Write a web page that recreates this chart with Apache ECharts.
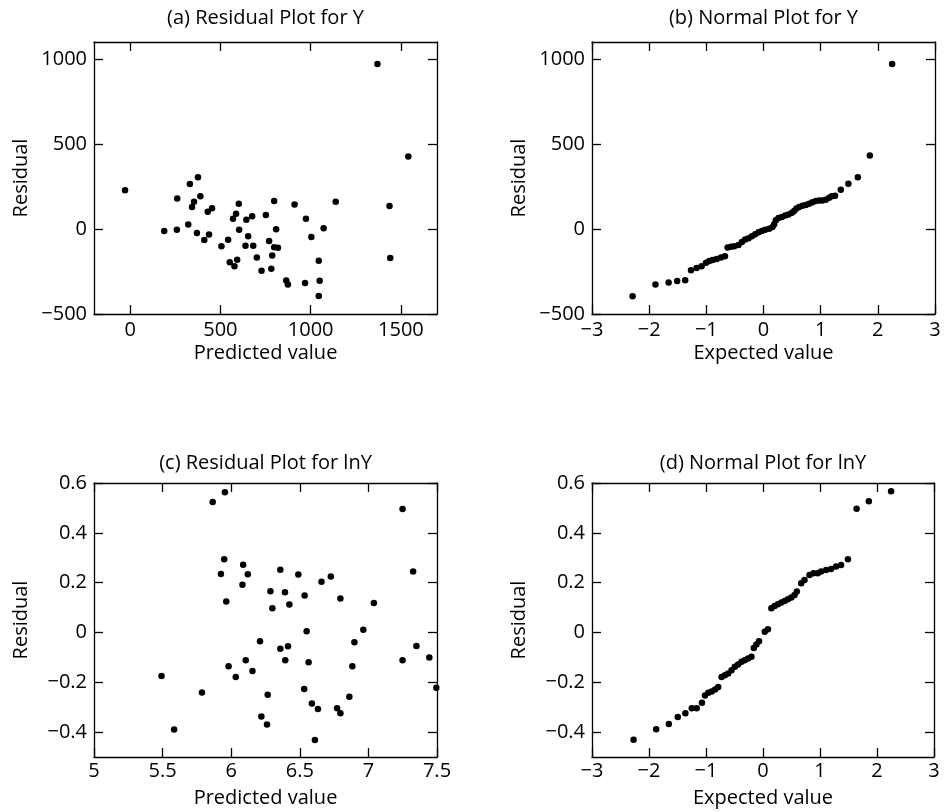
<!DOCTYPE html>
<html>
<head>
<meta charset="utf-8">
<script src="https://cdn.jsdelivr.net/npm/echarts@6/dist/echarts.min.js"></script>
<style>
html,body{margin:0;padding:0;background:#fff;}
#chart{width:950px;height:812px;}
</style>
</head>
<body>
<div id="chart"></div>
<script>
// ---------- data ----------
const panelTitles = ['(a) Residual Plot for Y', '(b) Normal Plot for Y', '(c) Residual Plot for lnY', '(d) Normal Plot for lnY'];
const xNames = ['Predicted value', 'Expected value', 'Predicted value', 'Expected value'];
const yName = 'Residual';

// (a) residuals vs predicted value for Y
const aPred = [1370,1541,-28,376,331,261,389,354,343,430,454,602,587,570,644,676,752,798,911,974,1139,1437,189,259,322,370,437,411,506,543,604,654,639,682,770,809,798,819,787,702,552,593,578,728,782,865,874,969,1050,1045,1045,1004,1072,1441];
const aRes  = [970,427,228,305,264,179,193,161,130,102,122,148,89,61,55,75,83,165,144,61,161,136,-12,-4,26,-24,-33,-65,-102,-63,-4,-43,-98,-98,-71,-2,-108,-110,-156,-167,-195,-181,-219,-246,-234,-303,-327,-317,-305,-394,-187,-47,4,-171];

// (b) normal plot for Y
const bExp = [-2.29,-1.89,-1.66,-1.51,-1.37,-1.268,-1.17,-1.083,-1.006,-0.948,-0.89,-0.82,-0.744,-0.675,-0.628,-0.57,-0.512,-0.437,-0.377,-0.32,-0.262,-0.203,-0.145,-0.087,-0.028,0.03,0.1,0.157,0.187,0.216,0.262,0.321,0.379,0.437,0.496,0.536,0.576,0.624,0.681,0.74,0.798,0.856,0.915,0.973,1.03,1.09,1.148,1.194,1.252,1.352,1.485,1.65,1.86,2.25];
const bRes = [-396,-327,-315,-306,-302,-242,-230,-219,-199,-188,-183,-176,-168,-160,-109,-105,-101,-94,-76,-62,-55,-43,-31,-19,-12,-4,2,12,28,51,64,70,80,86,96,106,120,129,137,141,149,157,164,168,168,172,184,192,196,231,266,305,433,970];

// (c) residuals vs predicted value for lnY
const cPred = [5.954,5.865,7.249,5.949,6.087,5.925,6.121,6.358,6.489,6.726,6.658,6.082,6.286,6.392,6.535,6.796,5.964,6.30,6.424,7.04,7.326,6.55,6.963,6.21,6.414,6.358,6.898,7.35,7.444,7.249,6.106,6.394,6.564,5.981,6.883,6.155,6.033,5.492,7.495,6.532,5.787,6.266,6.861,6.588,6.632,6.772,6.796,6.22,6.261,5.584,6.61];
const cRes  = [0.563,0.524,0.496,0.294,0.272,0.235,0.234,0.252,0.233,0.225,0.204,0.192,0.165,0.161,0.148,0.136,0.124,0.097,0.112,0.118,0.245,0.005,0.011,-0.035,-0.055,-0.065,-0.039,-0.054,-0.101,-0.112,-0.112,-0.112,-0.12,-0.136,-0.136,-0.155,-0.179,-0.175,-0.222,-0.227,-0.241,-0.25,-0.258,-0.285,-0.307,-0.304,-0.324,-0.337,-0.37,-0.39,-0.432];

// (d) normal plot for lnY
const dExp = [-2.271,-1.874,-1.652,-1.495,-1.362,-1.25,-1.163,-1.071,-1.018,-0.96,-0.9,-0.84,-0.786,-0.727,-0.669,-0.611,-0.552,-0.494,-0.437,-0.377,-0.32,-0.262,-0.203,-0.162,-0.116,-0.07,0.03,0.087,0.147,0.204,0.262,0.321,0.379,0.437,0.496,0.554,0.594,0.67,0.728,0.816,0.886,0.96,1.02,1.107,1.195,1.282,1.37,1.49,1.642,1.857,2.247];
const dRes = [-0.431,-0.389,-0.368,-0.339,-0.324,-0.304,-0.304,-0.282,-0.253,-0.242,-0.237,-0.229,-0.219,-0.179,-0.172,-0.165,-0.152,-0.138,-0.129,-0.118,-0.112,-0.105,-0.098,-0.062,-0.048,-0.035,0.003,0.013,0.097,0.106,0.113,0.12,0.126,0.133,0.14,0.15,0.164,0.198,0.211,0.231,0.238,0.238,0.245,0.251,0.255,0.265,0.271,0.294,0.497,0.527,0.567];

// axis ranges and tick labels
const yRangeY = [-500, 1100];
const yTicksY = [-500, 0, 500, 1000];
const xRangeA = [-200, 1700];
const xTicksA = [0, 500, 1000, 1500];
const xRangeNorm = [-3, 3];
const xTicksNorm = [-3, -2, -1, 0, 1, 2, 3];
const yRangeLn = [-0.5, 0.6];
const yTicksLn = [-0.4, -0.2, 0, 0.2, 0.4, 0.6];
const xRangeC = [5, 7.5];
const xTicksC = [5, 5.5, 6, 6.5, 7, 7.5];

// ---------- chart ----------
const FONT = '"Open Sans", "DejaVu Sans", sans-serif';
const INK = '#000';
const fmt = v => String(+Number(v).toFixed(2)).replace('-', '\u2212');

const grids = [
  {left: 94, top: 42, width: 343, height: 272},
  {left: 592, top: 42, width: 343, height: 272},
  {left: 94, top: 483, width: 343, height: 274},
  {left: 592, top: 483, width: 342, height: 274}
];

const lineStyle = {color: INK, width: 1.3};

function xAxes(gi, range, ticks, name, labelMargin, nameGap) {
  return [
    {
      gridIndex: gi, type: 'value', min: range[0], max: range[1], position: 'bottom',
      axisLine: {show: true, onZero: false, lineStyle},
      axisTick: {show: true, inside: true, length: 9, customValues: ticks, lineStyle},
      axisLabel: {show: true, customValues: ticks, margin: labelMargin, fontSize: 20, fontFamily: FONT, color: INK, formatter: fmt},
      splitLine: {show: false},
      name: name, nameLocation: 'middle', nameGap: nameGap,
      nameTextStyle: {fontSize: 20, fontFamily: FONT, color: INK}
    },
    {
      gridIndex: gi, type: 'value', min: range[0], max: range[1], position: 'top',
      axisLine: {show: true, onZero: false, lineStyle},
      axisTick: {show: true, inside: true, length: 9, customValues: ticks, lineStyle},
      axisLabel: {show: false},
      splitLine: {show: false}
    }
  ];
}

function yAxes(gi, range, ticks) {
  return [
    {
      gridIndex: gi, type: 'value', min: range[0], max: range[1], position: 'left',
      axisLine: {show: true, onZero: false, lineStyle},
      axisTick: {show: true, inside: true, length: 9, customValues: ticks, lineStyle},
      axisLabel: {show: true, customValues: ticks, margin: 7, fontSize: 20, fontFamily: FONT, color: INK, formatter: fmt},
      splitLine: {show: false},
      name: yName, nameLocation: 'middle', nameGap: 63,
      nameTextStyle: {fontSize: 20, fontFamily: FONT, color: INK}
    },
    {
      gridIndex: gi, type: 'value', min: range[0], max: range[1], position: 'right',
      axisLine: {show: true, onZero: false, lineStyle},
      axisTick: {show: true, inside: true, length: 9, customValues: ticks, lineStyle},
      axisLabel: {show: false},
      splitLine: {show: false}
    }
  ];
}

const xAxis = [].concat(
  xAxes(0, xRangeA, xTicksA, xNames[0], 6, 29),
  xAxes(1, xRangeNorm, xTicksNorm, xNames[1], 6, 29),
  xAxes(2, xRangeC, xTicksC, xNames[2], 4, 31),
  xAxes(3, xRangeNorm, xTicksNorm, xNames[3], 4, 31)
);
const yAxis = [].concat(
  yAxes(0, yRangeY, yTicksY),
  yAxes(1, yRangeY, yTicksY),
  yAxes(2, yRangeLn, yTicksLn),
  yAxes(3, yRangeLn, yTicksLn)
);

const pairs = (xs, ys) => xs.map((x, i) => [x, ys[i]]);
const sets = [pairs(aPred, aRes), pairs(bExp, bRes), pairs(cPred, cRes), pairs(dExp, dRes)];

const series = sets.map((d, gi) => ({
  type: 'scatter', xAxisIndex: gi * 2, yAxisIndex: gi * 2,
  data: d, symbol: 'circle', symbolSize: 6.5,
  itemStyle: {color: INK, opacity: 1}, silent: true, animation: false
}));

const titleY = [18, 18, 463, 463];
const graphic = panelTitles.map((t, gi) => ({
  type: 'text',
  x: grids[gi].left + grids[gi].width / 2,
  y: titleY[gi],
  style: {text: t, font: '20px ' + FONT, fill: INK, textAlign: 'center', textVerticalAlign: 'middle'}
}));

const chart = echarts.init(document.getElementById('chart'), null, {renderer: 'canvas'});
chart.setOption({
  animation: false,
  backgroundColor: '#fff',
  grid: grids,
  xAxis: xAxis,
  yAxis: yAxis,
  series: series,
  graphic: graphic
});
</script>
</body>
</html>
